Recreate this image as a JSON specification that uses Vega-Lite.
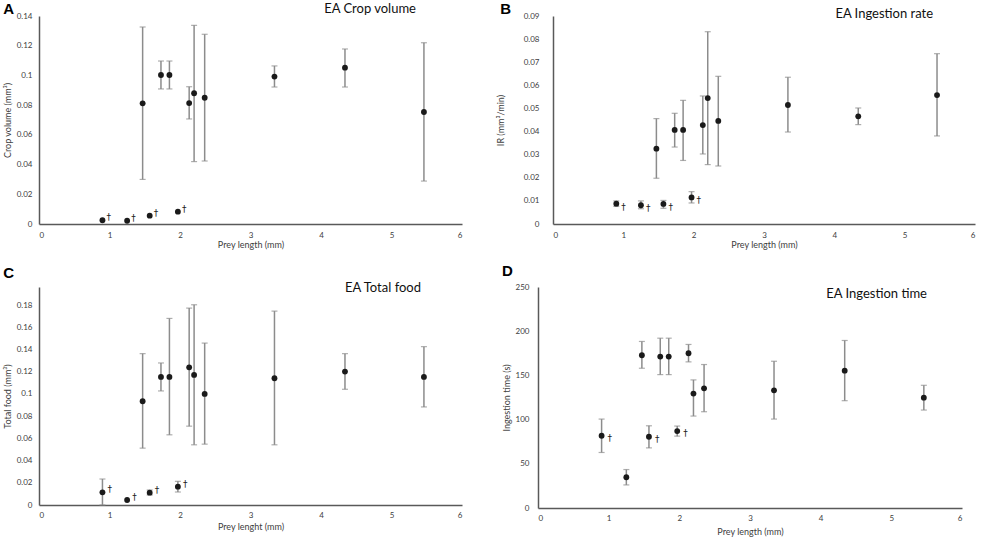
{
  "$schema": "https://vega.github.io/schema/vega-lite/v6.json",
  "padding": {"left": 3, "top": 2, "right": 3, "bottom": 2},
  "background": "white",
  "config": {
    "view": {"stroke": null},
    "font": "Lato",
    "axis": {
      "grid": false, "ticks": false, "labelOverlap": false,
      "domainColor": "#595959", "domainWidth": 1.5,
      "labelColor": "#404040", "labelFontSize": 8, "labelFont": "Lato",
      "titleColor": "#404040", "titleFontSize": 9, "titleFont": "Lato", "titleFontWeight": "normal"
    },
    "axisX": {"labelPadding": 7, "titlePadding": 1},
    "axisY": {"labelPadding": 7, "titlePadding": 4},
    "title": {"font": "Lato", "fontSize": 13, "fontWeight": "normal", "color": "#111111"}
  },
  "datasets": {
    "crop": [
      {"len": 0.9, "mean": 0.0025, "note": "†"},
      {"len": 1.25, "mean": 0.0022, "note": "†"},
      {"len": 1.57, "mean": 0.0056, "note": "†"},
      {"len": 1.97, "mean": 0.0083, "note": "†"},
      {"len": 1.47, "mean": 0.0812, "lo": 0.030, "hi": 0.1326},
      {"len": 1.73, "mean": 0.1003, "lo": 0.0909, "hi": 0.1097},
      {"len": 1.85, "mean": 0.1003, "lo": 0.0909, "hi": 0.1097},
      {"len": 2.13, "mean": 0.0814, "lo": 0.0707, "hi": 0.0924},
      {"len": 2.2, "mean": 0.088, "lo": 0.042, "hi": 0.1337},
      {"len": 2.35, "mean": 0.085, "lo": 0.0424, "hi": 0.1277},
      {"len": 3.34, "mean": 0.0992, "lo": 0.0922, "hi": 0.1064},
      {"len": 4.34, "mean": 0.1052, "lo": 0.0922, "hi": 0.1178},
      {"len": 5.46, "mean": 0.0754, "lo": 0.0289, "hi": 0.122}
    ],
    "ir": [
      {"len": 0.9, "mean": 0.0088, "lo": 0.0076, "hi": 0.0100, "note": "†"},
      {"len": 1.25, "mean": 0.0081, "lo": 0.0066, "hi": 0.0100, "note": "†"},
      {"len": 1.57, "mean": 0.0087, "lo": 0.0068, "hi": 0.0102, "note": "†"},
      {"len": 1.97, "mean": 0.0115, "lo": 0.0091, "hi": 0.0140, "note": "†"},
      {"len": 1.47, "mean": 0.0326, "lo": 0.0198, "hi": 0.0456},
      {"len": 1.73, "mean": 0.0407, "lo": 0.0333, "hi": 0.0479},
      {"len": 1.85, "mean": 0.0407, "lo": 0.0275, "hi": 0.0535},
      {"len": 2.13, "mean": 0.0428, "lo": 0.0303, "hi": 0.0554},
      {"len": 2.2, "mean": 0.0545, "lo": 0.0257, "hi": 0.0832},
      {"len": 2.35, "mean": 0.0446, "lo": 0.0251, "hi": 0.0639},
      {"len": 3.34, "mean": 0.0515, "lo": 0.0398, "hi": 0.0635},
      {"len": 4.34, "mean": 0.0466, "lo": 0.0430, "hi": 0.0502},
      {"len": 5.46, "mean": 0.0558, "lo": 0.0381, "hi": 0.0737}
    ],
    "food": [
      {"len": 0.9, "mean": 0.0114, "lo": 0, "hi": 0.0234, "note": "†"},
      {"len": 1.25, "mean": 0.0045, "note": "†"},
      {"len": 1.57, "mean": 0.0111, "lo": 0.009, "hi": 0.0135, "note": "†"},
      {"len": 1.97, "mean": 0.0165, "lo": 0.0117, "hi": 0.0213, "note": "†"},
      {"len": 1.47, "mean": 0.0934, "lo": 0.0512, "hi": 0.1363},
      {"len": 1.73, "mean": 0.1153, "lo": 0.1027, "hi": 0.1279},
      {"len": 1.85, "mean": 0.1153, "lo": 0.0632, "hi": 0.168},
      {"len": 2.13, "mean": 0.124, "lo": 0.071, "hi": 0.1773},
      {"len": 2.2, "mean": 0.1171, "lo": 0.0542, "hi": 0.1803},
      {"len": 2.35, "mean": 0.1, "lo": 0.0548, "hi": 0.1458},
      {"len": 3.34, "mean": 0.1141, "lo": 0.0542, "hi": 0.1746},
      {"len": 4.34, "mean": 0.1201, "lo": 0.1042, "hi": 0.1363},
      {"len": 5.46, "mean": 0.1153, "lo": 0.0883, "hi": 0.1426}
    ],
    "time": [
      {"len": 0.9, "mean": 81.7, "lo": 62.8, "hi": 100.6, "note": "†"},
      {"len": 1.25, "mean": 34.8, "lo": 26.1, "hi": 43.5},
      {"len": 1.57, "mean": 80.6, "lo": 68, "hi": 93, "note": "†"},
      {"len": 1.97, "mean": 87, "lo": 81.3, "hi": 92.7, "note": "†"},
      {"len": 1.47, "mean": 172.8, "lo": 158.1, "hi": 188.4},
      {"len": 1.73, "mean": 171.3, "lo": 150.9, "hi": 192.1},
      {"len": 1.85, "mean": 171.3, "lo": 150.9, "hi": 192.1},
      {"len": 2.13, "mean": 175.1, "lo": 165.3, "hi": 185},
      {"len": 2.2, "mean": 129.4, "lo": 104, "hi": 144.9},
      {"len": 2.35, "mean": 135.4, "lo": 108.9, "hi": 162.3},
      {"len": 3.34, "mean": 133.1, "lo": 100.6, "hi": 166},
      {"len": 4.34, "mean": 155.4, "lo": 121.4, "hi": 189.5},
      {"len": 5.46, "mean": 124.8, "lo": 110.8, "hi": 138.8}
    ]
  },
  "spacing": 15,
  "vconcat": [
    {
      "spacing": 34,
      "hconcat": [
        {
          "title": {"text": "A", "anchor": "start", "font": "Liberation Sans", "fontWeight": "bold", "fontSize": 15, "color": "#000000", "offset": -14},
          "vconcat": [
            {
              "width": 423, "height": 208,
              "title": {"text": "EA Crop volume", "anchor": "end", "frame": "group", "dx": -46, "offset": -4},
              "data": {"name": "crop"},
              "encoding": {
                "x": {"field": "len", "type": "quantitative", "scale": {"domain": [0, 6], "nice": false}, "title": "Prey length (mm)", "axis": {"values": [0, 1, 2, 3, 4, 5, 6], "format": "d"}}
              },
              "layer": [
                {"mark": {"type": "rule", "color": "#8c8c8c", "strokeWidth": 1.5},
                 "encoding": {"y": {"field": "lo", "type": "quantitative", "scale": {"domain": [0, 0.14], "nice": false}, "title": "Crop volume (mm³)", "axis": {"values": [0, 0.02, 0.04, 0.06, 0.08, 0.1, 0.12, 0.14], "format": ".2~f", "labelOverlap": false}}, "y2": {"field": "hi"}}},
                {"mark": {"type": "tick", "orient": "horizontal", "size": 6, "thickness": 1.2, "color": "#8c8c8c"},
                 "encoding": {"y": {"field": "lo", "type": "quantitative", "title": "Crop volume (mm³)", "axis": {"values": [0, 0.02, 0.04, 0.06, 0.08, 0.1, 0.12, 0.14], "format": ".2~f", "labelOverlap": false}}}},
                {"mark": {"type": "tick", "orient": "horizontal", "size": 6, "thickness": 1.2, "color": "#8c8c8c"},
                 "encoding": {"y": {"field": "hi", "type": "quantitative", "title": "Crop volume (mm³)", "axis": {"values": [0, 0.02, 0.04, 0.06, 0.08, 0.1, 0.12, 0.14], "format": ".2~f", "labelOverlap": false}}}},
                {"mark": {"type": "circle", "size": 34, "color": "#1a1a1a", "opacity": 1},
                 "encoding": {"y": {"field": "mean", "type": "quantitative", "title": "Crop volume (mm³)", "axis": {"values": [0, 0.02, 0.04, 0.06, 0.08, 0.1, 0.12, 0.14], "format": ".2~f", "labelOverlap": false}}}},
                {"transform": [{"filter": "isValid(datum.note)"}],
                 "mark": {"type": "text", "align": "left", "dx": 4, "dy": -3, "fontSize": 9, "font": "DejaVu Sans", "color": "#222222"},
                 "encoding": {"y": {"field": "mean", "type": "quantitative", "title": "Crop volume (mm³)", "axis": {"values": [0, 0.02, 0.04, 0.06, 0.08, 0.1, 0.12, 0.14], "format": ".2~f", "labelOverlap": false}}, "text": {"field": "note"}}}
              ]
            }
          ]
        },
        {
          "title": {"text": "B", "anchor": "start", "font": "Liberation Sans", "fontWeight": "bold", "fontSize": 15, "color": "#000000", "offset": -9, "dx": 4},
          "vconcat": [
            {
              "width": 422, "height": 208,
              "title": {"text": "EA Ingestion rate", "anchor": "end", "frame": "group", "dx": -42, "offset": -9},
              "data": {"name": "ir"},
              "encoding": {
                "x": {"field": "len", "type": "quantitative", "scale": {"domain": [0, 6], "nice": false}, "title": "Prey length (mm)", "axis": {"values": [0, 1, 2, 3, 4, 5, 6], "format": "d"}}
              },
              "layer": [
                {"mark": {"type": "rule", "color": "#8c8c8c", "strokeWidth": 1.5},
                 "encoding": {"y": {"field": "lo", "type": "quantitative", "scale": {"domain": [0, 0.09], "nice": false}, "title": "IR (mm³/min)", "axis": {"values": [0, 0.01, 0.02, 0.03, 0.04, 0.05, 0.06, 0.07, 0.08, 0.09], "format": ".2~f", "labelOverlap": false, "labelPadding": 14, "titlePadding": 18}}, "y2": {"field": "hi"}}},
                {"mark": {"type": "tick", "orient": "horizontal", "size": 6, "thickness": 1.2, "color": "#8c8c8c"},
                 "encoding": {"y": {"field": "lo", "type": "quantitative", "title": "IR (mm³/min)", "axis": {"values": [0, 0.01, 0.02, 0.03, 0.04, 0.05, 0.06, 0.07, 0.08, 0.09], "format": ".2~f", "labelOverlap": false, "labelPadding": 14, "titlePadding": 18}}}},
                {"mark": {"type": "tick", "orient": "horizontal", "size": 6, "thickness": 1.2, "color": "#8c8c8c"},
                 "encoding": {"y": {"field": "hi", "type": "quantitative", "title": "IR (mm³/min)", "axis": {"values": [0, 0.01, 0.02, 0.03, 0.04, 0.05, 0.06, 0.07, 0.08, 0.09], "format": ".2~f", "labelOverlap": false, "labelPadding": 14, "titlePadding": 18}}}},
                {"mark": {"type": "circle", "size": 34, "color": "#1a1a1a", "opacity": 1},
                 "encoding": {"y": {"field": "mean", "type": "quantitative", "title": "IR (mm³/min)", "axis": {"values": [0, 0.01, 0.02, 0.03, 0.04, 0.05, 0.06, 0.07, 0.08, 0.09], "format": ".2~f", "labelOverlap": false, "labelPadding": 14, "titlePadding": 18}}}},
                {"transform": [{"filter": "isValid(datum.note)"}],
                 "mark": {"type": "text", "align": "left", "dx": 5, "dy": 3, "fontSize": 9, "font": "DejaVu Sans", "color": "#222222"},
                 "encoding": {"y": {"field": "mean", "type": "quantitative", "title": "IR (mm³/min)", "axis": {"values": [0, 0.01, 0.02, 0.03, 0.04, 0.05, 0.06, 0.07, 0.08, 0.09], "format": ".2~f", "labelOverlap": false, "labelPadding": 14, "titlePadding": 18}}, "text": {"field": "note"}}}
              ]
            }
          ]
        }
      ]
    },
    {
      "spacing": 40,
      "hconcat": [
        {
          "title": {"text": "C", "anchor": "start", "font": "Liberation Sans", "fontWeight": "bold", "fontSize": 15, "color": "#000000", "offset": 1},
          "vconcat": [
            {
              "width": 423, "height": 218,
              "title": {"text": "EA Total food", "anchor": "end", "frame": "group", "dx": -41, "offset": -8},
              "data": {"name": "food"},
              "encoding": {
                "x": {"field": "len", "type": "quantitative", "scale": {"domain": [0, 6], "nice": false}, "title": "Prey lenght (mm)", "axis": {"values": [0, 1, 2, 3, 4, 5, 6], "format": "d", "labelPadding": 6, "titlePadding": 3}}
              },
              "layer": [
                {"mark": {"type": "rule", "color": "#8c8c8c", "strokeWidth": 1.5},
                 "encoding": {"y": {"field": "lo", "type": "quantitative", "scale": {"domain": [0, 0.1963], "nice": false}, "title": "Total food (mm³)", "axis": {"values": [0, 0.02, 0.04, 0.06, 0.08, 0.1, 0.12, 0.14, 0.16, 0.18], "format": ".2~f", "labelOverlap": false}}, "y2": {"field": "hi"}}},
                {"mark": {"type": "tick", "orient": "horizontal", "size": 6, "thickness": 1.2, "color": "#8c8c8c"},
                 "encoding": {"y": {"field": "lo", "type": "quantitative", "title": "Total food (mm³)", "axis": {"values": [0, 0.02, 0.04, 0.06, 0.08, 0.1, 0.12, 0.14, 0.16, 0.18], "format": ".2~f", "labelOverlap": false}}}},
                {"mark": {"type": "tick", "orient": "horizontal", "size": 6, "thickness": 1.2, "color": "#8c8c8c"},
                 "encoding": {"y": {"field": "hi", "type": "quantitative", "title": "Total food (mm³)", "axis": {"values": [0, 0.02, 0.04, 0.06, 0.08, 0.1, 0.12, 0.14, 0.16, 0.18], "format": ".2~f", "labelOverlap": false}}}},
                {"mark": {"type": "circle", "size": 34, "color": "#1a1a1a", "opacity": 1},
                 "encoding": {"y": {"field": "mean", "type": "quantitative", "title": "Total food (mm³)", "axis": {"values": [0, 0.02, 0.04, 0.06, 0.08, 0.1, 0.12, 0.14, 0.16, 0.18], "format": ".2~f", "labelOverlap": false}}}},
                {"transform": [{"filter": "isValid(datum.note)"}],
                 "mark": {"type": "text", "align": "left", "dx": 5, "dy": -3, "fontSize": 9, "font": "DejaVu Sans", "color": "#222222"},
                 "encoding": {"y": {"field": "mean", "type": "quantitative", "title": "Total food (mm³)", "axis": {"values": [0, 0.02, 0.04, 0.06, 0.08, 0.1, 0.12, 0.14, 0.16, 0.18], "format": ".2~f", "labelOverlap": false}}, "text": {"field": "note"}}}
              ]
            }
          ]
        },
        {
          "title": {"text": "D", "anchor": "start", "font": "Liberation Sans", "fontWeight": "bold", "fontSize": 15, "color": "#000000", "offset": 4},
          "vconcat": [
            {
              "width": 424, "height": 221,
              "title": {"text": "EA Ingestion time", "anchor": "end", "frame": "group", "dx": -35, "offset": -18},
              "data": {"name": "time"},
              "encoding": {
                "x": {"field": "len", "type": "quantitative", "scale": {"domain": [0, 6], "nice": false}, "title": "Prey length (mm)", "axis": {"values": [0, 1, 2, 3, 4, 5, 6], "format": "d", "labelPadding": 6, "titlePadding": 5}}
              },
              "layer": [
                {"mark": {"type": "rule", "color": "#8c8c8c", "strokeWidth": 1.5},
                 "encoding": {"y": {"field": "lo", "type": "quantitative", "scale": {"domain": [0, 250], "nice": false}, "title": "Ingestion time (s)", "axis": {"values": [0, 50, 100, 150, 200, 250], "format": "d", "labelPadding": 9}}, "y2": {"field": "hi"}}},
                {"mark": {"type": "tick", "orient": "horizontal", "size": 6, "thickness": 1.2, "color": "#8c8c8c"},
                 "encoding": {"y": {"field": "lo", "type": "quantitative", "title": "Ingestion time (s)", "axis": {"values": [0, 50, 100, 150, 200, 250], "format": "d", "labelPadding": 9}}}},
                {"mark": {"type": "tick", "orient": "horizontal", "size": 6, "thickness": 1.2, "color": "#8c8c8c"},
                 "encoding": {"y": {"field": "hi", "type": "quantitative", "title": "Ingestion time (s)", "axis": {"values": [0, 50, 100, 150, 200, 250], "format": "d", "labelPadding": 9}}}},
                {"mark": {"type": "circle", "size": 34, "color": "#1a1a1a", "opacity": 1},
                 "encoding": {"y": {"field": "mean", "type": "quantitative", "title": "Ingestion time (s)", "axis": {"values": [0, 50, 100, 150, 200, 250], "format": "d", "labelPadding": 9}}}},
                {"transform": [{"filter": "isValid(datum.note)"}],
                 "mark": {"type": "text", "align": "left", "dx": 6, "dy": 2, "fontSize": 9, "font": "DejaVu Sans", "color": "#222222"},
                 "encoding": {"y": {"field": "mean", "type": "quantitative", "title": "Ingestion time (s)", "axis": {"values": [0, 50, 100, 150, 200, 250], "format": "d", "labelPadding": 9}}, "text": {"field": "note"}}}
              ]
            }
          ]
        }
      ]
    }
  ]
}
